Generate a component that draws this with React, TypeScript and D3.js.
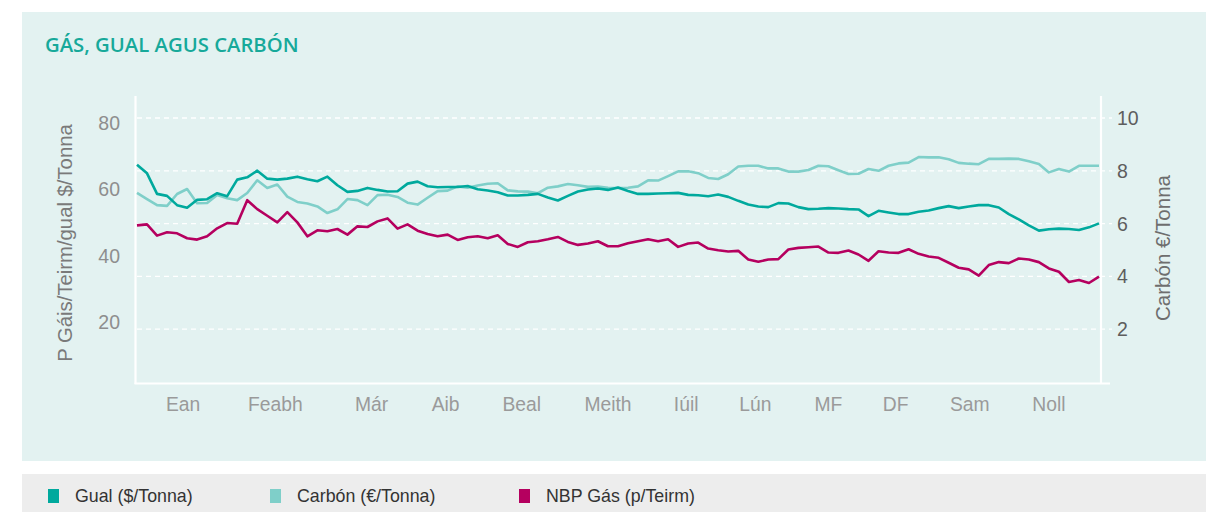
import React from "react";
import * as d3 from "d3";

// ---- data (sampled evenly across the year) ----
const gual: number[] = [
  67.1, 64.5, 58.3, 57.7, 54.9, 54.1, 56.5, 56.7, 58.5, 57.6,
  62.6, 63.3, 65.3, 62.9, 62.6, 62.9, 63.5, 62.7, 62.1, 63.5,
  60.9, 58.9, 59.2, 60.1, 59.5, 59.0, 59.1, 61.4, 62.0, 60.6,
  60.3, 60.4, 60.4, 60.7, 59.7, 59.3, 58.8, 57.8, 57.8,
  58.0, 58.3, 57.2, 56.3, 57.7, 59.0, 59.6, 59.9, 59.5, 60.2,
  59.2, 58.3, 58.3, 58.4, 58.5, 58.6, 58.0, 57.9, 57.6, 58.1,
  57.4, 56.2, 55.1, 54.5, 54.3, 55.5, 55.4, 54.3, 53.7, 53.8,
  54.0, 53.9, 53.7, 53.6, 51.6, 53.2, 52.7, 52.2, 52.2,
  52.9, 53.3, 54.0, 54.6, 54.0, 54.5, 54.9, 54.9, 54.2, 52.2,
  50.6, 48.8, 47.2, 47.6, 47.8, 47.7, 47.4, 48.2, 49.4,
];

const carbon: number[] = [
  7.16, 6.93, 6.70, 6.67, 7.12, 7.31, 6.77, 6.78, 7.08, 6.96,
  6.89, 7.16, 7.64, 7.35, 7.48, 7.02, 6.82, 6.76, 6.65, 6.40,
  6.54, 6.93, 6.89, 6.70, 7.08, 7.09, 7.01, 6.79, 6.72, 6.98,
  7.23, 7.25, 7.41, 7.36, 7.44, 7.51, 7.53, 7.26, 7.22,
  7.21, 7.15, 7.36, 7.41, 7.50, 7.45, 7.39, 7.40, 7.36, 7.35,
  7.36, 7.41, 7.64, 7.63, 7.80, 7.98, 7.98, 7.91, 7.73, 7.69,
  7.87, 8.16, 8.19, 8.19, 8.09, 8.09, 7.97, 7.97, 8.03, 8.19,
  8.17, 8.02, 7.88, 7.89, 8.07, 8.00, 8.19, 8.28, 8.31,
  8.52, 8.51, 8.51, 8.44, 8.30, 8.27, 8.25, 8.45, 8.45, 8.46,
  8.45, 8.36, 8.26, 7.94, 8.07, 7.97, 8.19, 8.19, 8.19,
];

const nbp: number[] = [
  48.8, 49.1, 45.7, 46.7, 46.4, 44.9, 44.5, 45.5, 47.9, 49.5,
  49.3, 56.4, 53.7, 51.7, 49.7, 52.8, 49.7, 45.5, 47.3, 47.0,
  47.7, 46.0, 48.5, 48.3, 50.0, 50.9, 47.8, 49.1, 47.2, 46.2,
  45.5, 46.0, 44.4, 45.2, 45.5, 44.9, 45.8, 43.2, 42.3,
  43.7, 44.0, 44.6, 45.3, 43.8, 42.9, 43.3, 44.0, 42.5, 42.5,
  43.4, 44.0, 44.6, 44.0, 44.6, 42.3, 43.3, 43.6, 41.8, 41.3,
  40.9, 41.1, 38.5, 37.8, 38.5, 38.6, 41.5, 42.0, 42.2, 42.4,
  40.6, 40.5, 41.2, 40.0, 38.1, 41.0, 40.6, 40.5, 41.6,
  40.2, 39.4, 39.0, 37.5, 36.0, 35.5, 33.6, 36.8, 37.7, 37.4,
  38.8, 38.5, 37.7, 35.8, 34.8, 31.7, 32.3, 31.4, 33.3,
];

const months = ["Ean", "Feabh", "Már", "Aib", "Beal", "Meith", "Iúil", "Lún", "MF", "DF", "Sam", "Noll"];
const monthPos = [4.6, 13.8, 23.4, 30.8, 38.4, 47.0, 54.8, 61.7, 69.0, 75.7, 83.1, 91.0];
const leftTicks = [20, 40, 60, 80];
const rightTicks = [2, 4, 6, 8, 10];

const legendItems = ["Gual ($/Tonna)", "Carbón (€/Tonna)", "NBP Gás (p/Teirm)"];
const colors = ["#00a99d", "#7fcfc9", "#b5005f"];

const W = 1218;
const H = 512;
const FONT = "'Liberation Sans', Arial, sans-serif";

export default function App() {
  const x = d3.scaleLinear().domain([0, gual.length - 1]).range([137, 1099]);
  const yL = d3.scaleLinear().domain([0, 80]).range([387, 122]);
  const yR = d3.scaleLinear().domain([0, 10]).range([382, 118]);

  const lineL = d3
    .line<number>()
    .x((_, i) => x(i))
    .y((d) => yL(d))
    .curve(d3.curveLinear);
  const lineR = d3
    .line<number>()
    .x((_, i) => x(i))
    .y((d) => yR(d))
    .curve(d3.curveLinear);

  const legendX = [48, 270, 519];

  return (
    <svg
      width={W}
      height={H}
      style={{ position: "absolute", left: 0, top: 0, display: "block" }}
      fontFamily={FONT}
    >
      <rect x={0} y={0} width={W} height={H} fill="#ffffff" />
      <rect x={22} y={12} width={1184} height={449} fill="#e3f2f1" />
      <rect x={22} y={474} width={1184} height={38} fill="#ededed" />

      <text
        x={45}
        y={52}
        fill="#17a99a"
        fontFamily="'Open Sans', sans-serif"
        fontWeight={600}
        fontSize={20.3}
      >
        GÁS, GUAL AGUS CARBÓN
      </text>

      {/* gridlines */}
      {rightTicks.map((t) => (
        <line
          key={"g" + t}
          x1={137}
          x2={1112}
          y1={yR(t)}
          y2={yR(t)}
          stroke="#ffffff"
          strokeWidth={1.3}
          strokeDasharray="5,4"
        />
      ))}

      {/* axes lines */}
      <line x1={135.5} x2={135.5} y1={96} y2={384} stroke="#fff" strokeWidth={2.2} />
      <line x1={1101} x2={1101} y1={96} y2={384} stroke="#fff" strokeWidth={2.2} />
      <line x1={134.5} x2={1110} y1={383.5} y2={383.5} stroke="#fff" strokeWidth={2.2} />

      {/* left ticks */}
      {leftTicks.map((t) => (
        <text
          key={"l" + t}
          x={120}
          y={yL(t) + 1}
          textAnchor="end"
          dominantBaseline="central"
          fill="#8e8e8e"
          fontSize={19.5}
        >
          {t}
        </text>
      ))}
      {/* right ticks */}
      {rightTicks.map((t) => (
        <text
          key={"r" + t}
          x={1117}
          y={yR(t)}
          textAnchor="start"
          dominantBaseline="central"
          fill="#5e5e5e"
          fontSize={19.5}
        >
          {t}
        </text>
      ))}

      {/* axis titles */}
      <text
        transform="translate(65,243) rotate(-90)"
        textAnchor="middle"
        dominantBaseline="central"
        fill="#7a7a7a"
        fontSize={20.3}
      >
        P Gáis/Teirm/gual $/Tonna
      </text>
      <text
        transform="translate(1162,248) rotate(-90)"
        textAnchor="middle"
        dominantBaseline="central"
        fill="#6e6e6e"
        fontSize={20.5}
      >
        Carbón €/Tonna
      </text>

      {/* month labels */}
      {months.map((m, i) => (
        <text
          key={m}
          x={x(monthPos[i])}
          y={404}
          textAnchor="middle"
          dominantBaseline="central"
          fill="#9a9a9a"
          fontSize={19.3}
        >
          {m}
        </text>
      ))}

      {/* lines */}
      <path d={lineR(carbon) || ""} fill="none" stroke={colors[1]} strokeWidth={2.6} strokeLinejoin="round" />
      <path d={lineL(gual) || ""} fill="none" stroke={colors[0]} strokeWidth={2.6} strokeLinejoin="round" />
      <path d={lineL(nbp) || ""} fill="none" stroke={colors[2]} strokeWidth={2.6} strokeLinejoin="round" />

      {/* legend */}
      {legendItems.map((name, i) => (
        <g key={name}>
          <rect x={legendX[i]} y={489} width={11} height={14} fill={colors[i]} />
          <text
            x={legendX[i] + 27}
            y={496}
            dominantBaseline="central"
            fill="#333"
            fontSize={17.8}
          >
            {name}
          </text>
        </g>
      ))}
    </svg>
  );
}
